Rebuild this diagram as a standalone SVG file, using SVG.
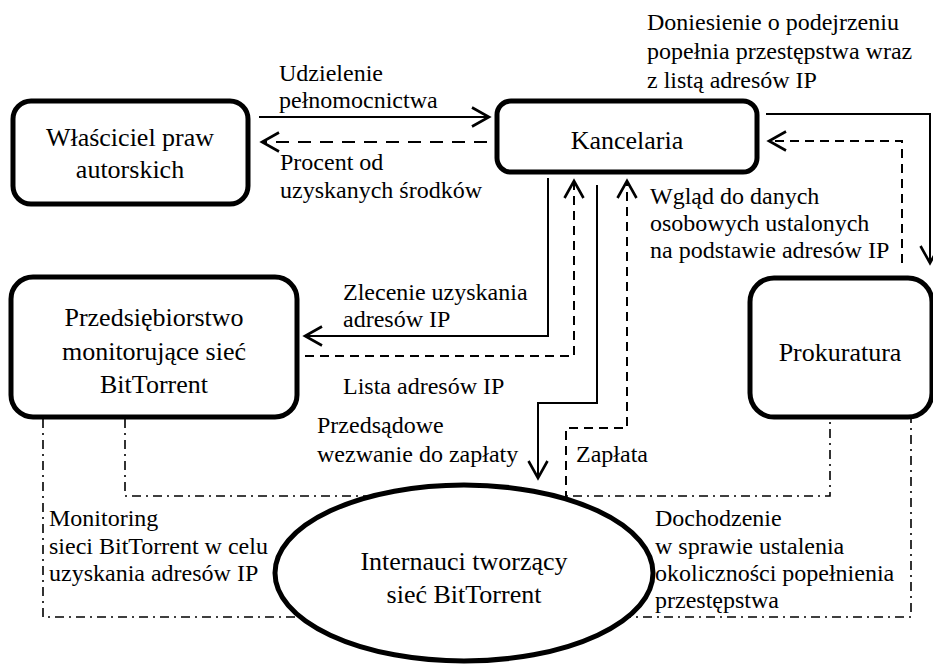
<svg xmlns="http://www.w3.org/2000/svg" width="933" height="665" viewBox="0 0 933 665">
<style>
.node{fill:#fff;stroke:#000;stroke-width:5}
.nt{font-size:26px;fill:#000;text-anchor:middle}
.lb{font-size:24px;fill:#000}
.c{fill:none;stroke:#000;stroke-width:2}
.d1{stroke-dasharray:13 9}
.d2{stroke-dasharray:9 6}
.dd{fill:none;stroke:#000;stroke-width:1.6;stroke-dasharray:9 5 2 5}
</style>
<defs>
<marker id="arr" viewBox="-20 -12 24 24" refX="0" refY="0" markerWidth="24" markerHeight="24" markerUnits="userSpaceOnUse" orient="auto">
<path d="M-17,-9.5 L0,0 L-17,9.5" fill="none" stroke="#000" stroke-width="2.6"/>
</marker>
</defs>
<rect width="933" height="665" fill="#fff"/>
<g id="connectors">
<path class="c" d="M259,117 H489" marker-end="url(#arr)"/>
<path class="c d1" d="M487,142 H262" marker-end="url(#arr)"/>
<path class="c" d="M766,114 H930 V263" marker-end="url(#arr)"/>
<path class="c d2" d="M902,263 V141 H769" marker-end="url(#arr)"/>
<path class="c" d="M548,178 V336 H305" marker-end="url(#arr)"/>
<path class="c d2" d="M305,356 H574 V181" marker-end="url(#arr)"/>
<path class="c" d="M597,185 V403 H538 V478" marker-end="url(#arr)"/>
<path class="c d2" d="M566,500 V428 H627 V181" marker-end="url(#arr)"/>
<path class="dd" d="M125,419 V496 H830 V419"/>
<path class="dd" d="M43,419 V617 H911 V419"/>
</g>
<g id="labels" font-family="Liberation Serif, Times New Roman, DejaVu Serif, serif">
<text class="lb" x="279" y="81">Udzielenie</text>
<text class="lb" x="279" y="108">pełnomocnictwa</text>
<text class="lb" x="280" y="170">Procent od</text>
<text class="lb" x="280" y="198">uzyskanych środków</text>
<text class="lb" x="647" y="30">Doniesienie o podejrzeniu</text>
<text class="lb" x="647" y="59">popełnia przestępstwa wraz</text>
<text class="lb" x="647" y="88">z listą adresów IP</text>
<text class="lb" x="650" y="204">Wgląd do danych</text>
<text class="lb" x="650" y="231">osobowych ustalonych</text>
<text class="lb" x="650" y="258">na podstawie adresów IP</text>
<text class="lb" x="343" y="300">Zlecenie uzyskania</text>
<text class="lb" x="343" y="327">adresów IP</text>
<text class="lb" x="343" y="394">Lista adresów IP</text>
<text class="lb" x="317" y="433">Przedsądowe</text>
<text class="lb" x="317" y="462">wezwanie do zapłaty</text>
<text class="lb" x="576" y="462">Zapłata</text>
<text class="lb" x="49" y="526">Monitoring</text>
<text class="lb" x="49" y="554">sieci BitTorrent w celu</text>
<text class="lb" x="49" y="581">uzyskania adresów IP</text>
<text class="lb" x="655" y="526">Dochodzenie</text>
<text class="lb" x="655" y="554">w sprawie ustalenia</text>
<text class="lb" x="655" y="581">okoliczności popełnienia</text>
<text class="lb" x="655" y="608">przestępstwa</text>
</g>
<g font-family="Liberation Serif, Times New Roman, DejaVu Serif, serif">
<g id="wlasciciel">
<rect class="node" x="13" y="101" width="235" height="103" rx="18"/>
<text class="nt" x="130" y="146">Właściciel praw</text>
<text class="nt" x="130" y="178">autorskich</text>
</g>
<g id="kancelaria">
<rect class="node" x="497" y="101" width="260" height="71" rx="14"/>
<text class="nt" x="627" y="149">Kancelaria</text>
</g>
<g id="przedsiebiorstwo">
<rect class="node" x="11" y="277" width="286" height="140" rx="22"/>
<text class="nt" x="154" y="326">Przedsiębiorstwo</text>
<text class="nt" x="154" y="360">monitorujące sieć</text>
<text class="nt" x="154" y="393">BitTorrent</text>
</g>
<g id="prokuratura">
<rect class="node" x="750" y="278" width="182" height="139" rx="24"/>
<text class="nt" x="840" y="361">Prokuratura</text>
</g>
<g id="internauci">
<ellipse class="node" cx="464" cy="573" rx="189" ry="88"/>
<text class="nt" x="464" y="570">Internauci tworzący</text>
<text class="nt" x="464" y="603">sieć BitTorrent</text>
</g>
</g>
</svg>
